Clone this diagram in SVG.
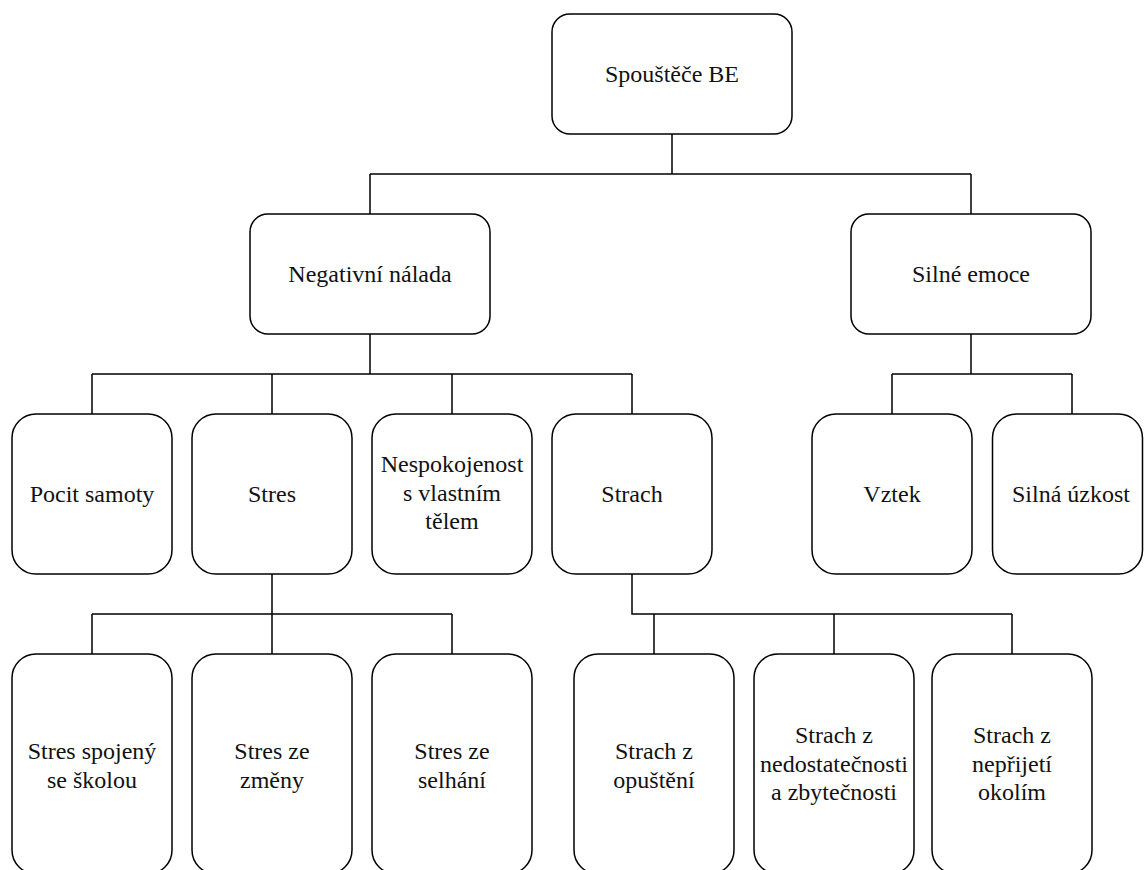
<svg xmlns="http://www.w3.org/2000/svg" width="1144" height="870" viewBox="0 0 1144 870">
<style>
.box{fill:#fff;stroke:#000;stroke-width:1.5}
.c{fill:none;stroke:#000;stroke-width:1.5}
</style>
<rect width="1144" height="870" fill="#fff"/>
<g id="connectors">
<path class="c" d="M672 134V174M370 174H971M370 174V214M971 174V214"/>
<path class="c" d="M370 334V374M92 374H632M92 374V414M272 374V414M452 374V414M632 374V414"/>
<path class="c" d="M971 334V374M892 374H1072M892 374V414M1072 374V414"/>
<path class="c" d="M272 574V654M92 614H452M92 614V654M452 614V654"/>
<path class="c" d="M632 574V614H1012M654 614V654M834 614V654M1012 614V654"/>
</g>
<g font-family="Liberation Serif" font-size="24" fill="#111" text-anchor="middle">
<g id="n-root"><rect class="box" x="552" y="14" width="240" height="120" rx="18"/><text font-family="Liberation Serif" x="672" y="82">Spouštěče BE</text></g>
<g id="n-negativni"><rect class="box" x="250" y="214" width="240" height="120" rx="18"/><text font-family="Liberation Serif" x="370" y="282">Negativní nálada</text></g>
<g id="n-silne"><rect class="box" x="851" y="214" width="240" height="120" rx="18"/><text font-family="Liberation Serif" x="971" y="282">Silné emoce</text></g>
<g id="n-pocit"><rect class="box" x="12" y="414" width="160" height="160" rx="24"/><text font-family="Liberation Serif" x="92" y="502">Pocit samoty</text></g>
<g id="n-stres"><rect class="box" x="192" y="414" width="160" height="160" rx="24"/><text font-family="Liberation Serif" x="272" y="502">Stres</text></g>
<g id="n-nespokojenost"><rect class="box" x="372" y="414" width="160" height="160" rx="24"/><text font-family="Liberation Serif" x="452" y="472">Nespokojenost</text><text font-family="Liberation Serif" x="452" y="500.5">s vlastním</text><text font-family="Liberation Serif" x="452" y="529">tělem</text></g>
<g id="n-strach"><rect class="box" x="552" y="414" width="160" height="160" rx="24"/><text font-family="Liberation Serif" x="632" y="502">Strach</text></g>
<g id="n-vztek"><rect class="box" x="812" y="414" width="160" height="160" rx="24"/><text font-family="Liberation Serif" x="892" y="502">Vztek</text></g>
<g id="n-uzkost"><rect class="box" x="992.5" y="414" width="150" height="160" rx="24"/><text font-family="Liberation Serif" x="1071" y="502">Silná úzkost</text></g>
<g id="n-skola"><rect class="box" x="12" y="654" width="160" height="220" rx="24"/><text font-family="Liberation Serif" x="92" y="759">Stres spojený</text><text font-family="Liberation Serif" x="92" y="787.5">se školou</text></g>
<g id="n-zmena"><rect class="box" x="192" y="654" width="160" height="220" rx="24"/><text font-family="Liberation Serif" x="272" y="759">Stres ze</text><text font-family="Liberation Serif" x="272" y="787.5">změny</text></g>
<g id="n-selhani"><rect class="box" x="372" y="654" width="160" height="220" rx="24"/><text font-family="Liberation Serif" x="452" y="759">Stres ze</text><text font-family="Liberation Serif" x="452" y="787.5">selhání</text></g>
<g id="n-opusteni"><rect class="box" x="574" y="654" width="160" height="220" rx="24"/><text font-family="Liberation Serif" x="654" y="759">Strach z</text><text font-family="Liberation Serif" x="654" y="787.5">opuštění</text></g>
<g id="n-nedostatecnost"><rect class="box" x="754" y="654" width="160" height="220" rx="24"/><text font-family="Liberation Serif" x="834" y="743">Strach z</text><text font-family="Liberation Serif" x="834" y="771.5">nedostatečnosti</text><text font-family="Liberation Serif" x="834" y="800">a zbytečnosti</text></g>
<g id="n-neprijeti"><rect class="box" x="932" y="654" width="160" height="220" rx="24"/><text font-family="Liberation Serif" x="1012" y="743">Strach z</text><text font-family="Liberation Serif" x="1012" y="771.5">nepřijetí</text><text font-family="Liberation Serif" x="1012" y="800">okolím</text></g>
</g>
</svg>
